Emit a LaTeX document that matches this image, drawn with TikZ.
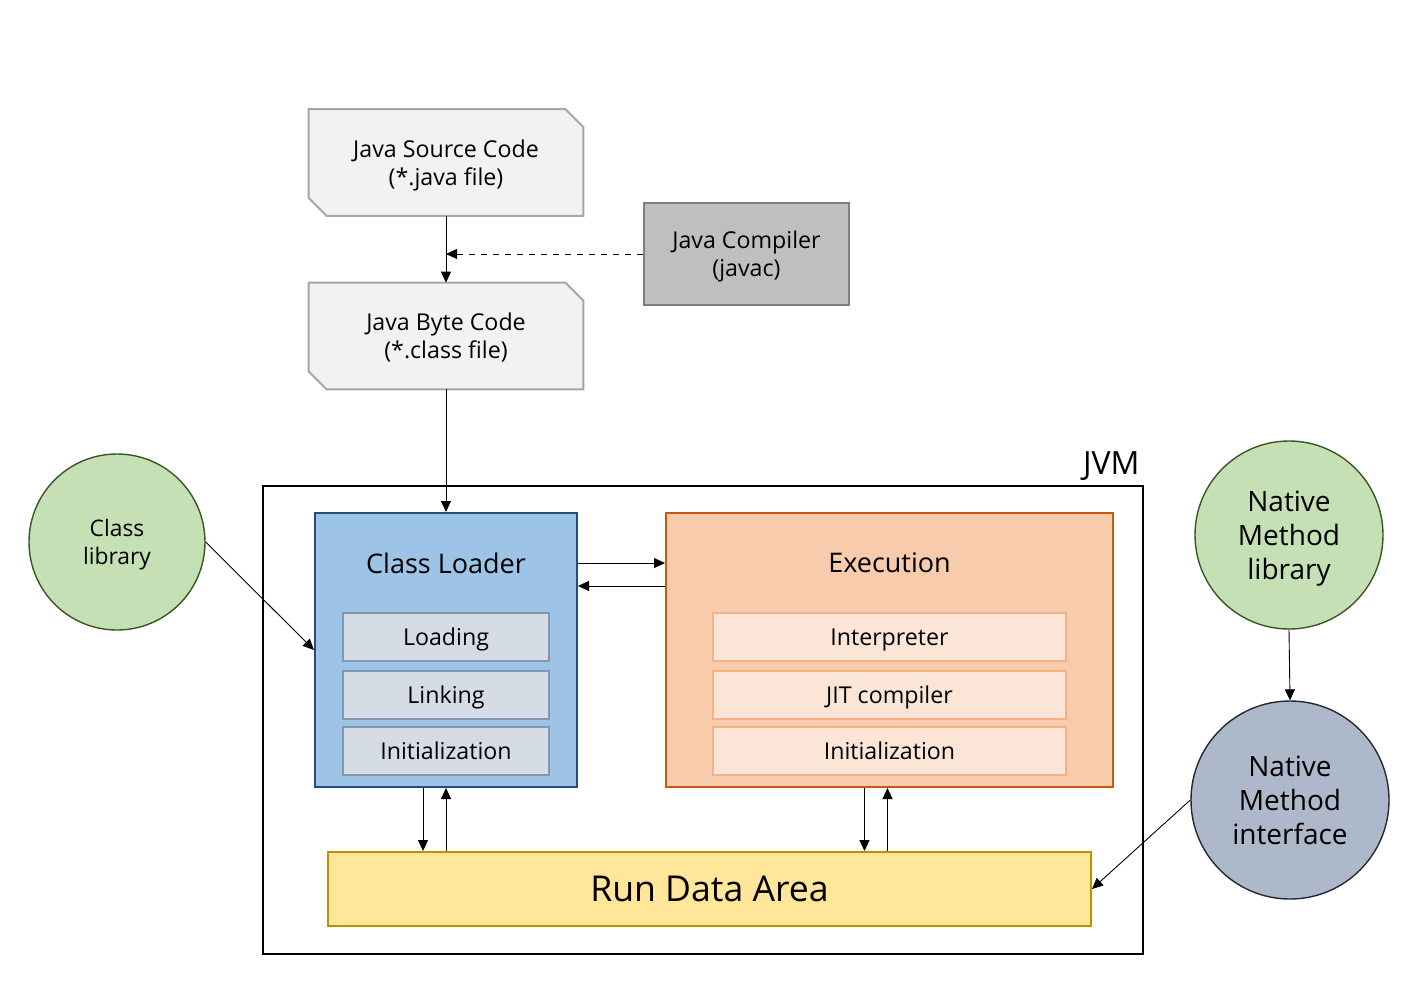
\documentclass[tikz,border=0pt]{standalone}
\usepackage{fontspec}
\setmainfont{Open Sans}
\usepackage{xcolor}
\usepackage{tikz}
\usetikzlibrary{backgrounds}
\usetikzlibrary{arrows.meta}

\definecolor{docfill}{HTML}{F2F2F2}
\definecolor{docline}{HTML}{A6A6A6}
\definecolor{compfill}{HTML}{BFBFBF}
\definecolor{compline}{HTML}{7F7F7F}
\definecolor{clfill}{HTML}{9DC3E6}
\definecolor{clline}{HTML}{1F4E79}
\definecolor{clsubfill}{HTML}{D6DCE5}
\definecolor{clsubline}{HTML}{8497B0}
\definecolor{exfill}{HTML}{F8CBAD}
\definecolor{exline}{HTML}{C55A11}
\definecolor{exsubfill}{HTML}{FBE5D6}
\definecolor{exsubline}{HTML}{F4B183}
\definecolor{rdafill}{HTML}{FFE699}
\definecolor{rdaline}{HTML}{BF9000}
\definecolor{libfill}{HTML}{C5E0B4}
\definecolor{libline}{HTML}{385723}
\definecolor{nmifill}{HTML}{ADB9CA}
\definecolor{nmiline}{HTML}{222A35}

\begin{document}
\begin{tikzpicture}[x = 0.5pt, y = -0.5pt,
	small/.style = {font = \fontsize{11.6}{14}\selectfont, align = center, text depth = 0pt},
	docbox/.style = {small, minimum width = 137pt, minimum height = 53pt, inner sep = 0pt},
	subbox/.style = {small, draw, line width = 1pt, minimum height = 24pt, inner sep = 0pt},
	circ/.style = {shape = circle, draw, line width = 0.7pt, inner sep = 0pt, align = center, text depth = 0pt},
	arr/.style = {-{Triangle[length = 5.5pt, width = 5pt]}, line width = 0.45pt}]
	\useasboundingbox (0, 0) rectangle (1403, 992);

	\node[docbox] (src) at (446, 162.5) {Java Source Code\\(*.java file)};
	\node[docbox] (byte) at (446, 336) {Java Byte Code\\(*.class file)};
	\begin{scope}[on background layer]
	\foreach \n in {src, byte}{
		\filldraw[fill = docfill, draw = docline, line width = 1pt] (\n.north west) -- ([xshift = -9pt]\n.north east) -- ([yshift = -9pt]\n.north east) -- (\n.south east) -- ([xshift = 9pt]\n.south west) -- ([yshift = 9pt]\n.south west) -- cycle;}
	\end{scope}
	\node[small, fill = compfill, draw = compline, line width = 1pt, minimum width = 102.5pt, minimum height = 51pt] (comp) at (746.5, 254) {Java Compiler\\(javac)};

	\node[draw, line width = 1pt, minimum width = 440pt, minimum height = 234pt] (jvm) at (703, 720) {};
	\node[font = \fontsize{16}{19}\selectfont, anchor = south east, inner sep = 2pt] (jvmlabel) at (jvm.north east) {JVM};

	\node[fill = clfill, draw = clline, line width = 1pt, minimum width = 131pt, minimum height = 137pt] (cl) at (446, 650) {};
	\node[font = \fontsize{13.5}{16}\selectfont] (cltitle) at (446, 563) {Class Loader};
	\node[fill = exfill, draw = exline, line width = 1pt, minimum width = 223.5pt, minimum height = 137pt] (ex) at (889.5, 650) {};
	\node[font = \fontsize{13.5}{16}\selectfont] (extitle) at (889.5, 563) {Execution};
	\foreach \y/\a/\b/\k in {637/Loading/Interpreter/1, 695/Linking/JIT compiler/2, 751/Initialization/Initialization/3}{
		\node[subbox, fill = clsubfill, draw = clsubline, minimum width = 103pt] (clsub\k) at (446, \y) {\a};
		\node[subbox, fill = exsubfill, draw = exsubline, minimum width = 176.5pt] (exsub\k) at (889.5, \y) {\b};}

	\node[fill = rdafill, draw = rdaline, line width = 1pt, minimum width = 381.5pt, minimum height = 37pt, font = \fontsize{17.8}{20}\selectfont] (rda) at (709.5, 889) {Run Data Area};

	\node[circ, fill = libfill, draw = libline, minimum size = 88pt, font = \fontsize{11.4}{13.8}\selectfont] (clib) at (117, 542) {Class\\library};
	\node[circ, fill = libfill, draw = libline, minimum size = 94pt, font = \fontsize{14}{17}\selectfont] (nml) at (1289, 535) {Native\\Method\\library};
	\node[circ, fill = nmifill, draw = nmiline, minimum size = 99pt, font = \fontsize{14}{17}\selectfont] (nmi) at (1290, 800) {Native\\Method\\interface};

	\draw[arr] (src.south) -- (byte.north);
	\draw[arr, dashed] (comp.west) -- (src.south |- comp.west);
	\draw[arr] (byte.south) -- (cl.north);
	\draw[arr] ([yshift = 43.5pt]cl.east) -- ([yshift = 43.5pt]cl.east -| ex.west);
	\draw[arr] ([yshift = 32pt]cl.east -| ex.west) -- ([yshift = 32pt]cl.east);
	\draw[arr] ([xshift = -11.5pt]cl.south) -- ([xshift = -11.5pt]cl.south |- rda.north);
	\draw[arr] (cl.south |- rda.north) -- (cl.south);
	\draw[arr] ([xshift = -12.5pt]ex.south) -- ([xshift = -12.5pt]ex.south |- rda.north);
	\draw[arr] ([xshift = -1pt]ex.south |- rda.north) -- ([xshift = -1pt]ex.south);
	\draw[arr] (clib.east) -- (cl.west);
	\draw[arr] (nml.south) -- (nmi.north);
	\draw[arr] (nmi.west) -- (rda.east);
	\end{tikzpicture}
\end{document}
